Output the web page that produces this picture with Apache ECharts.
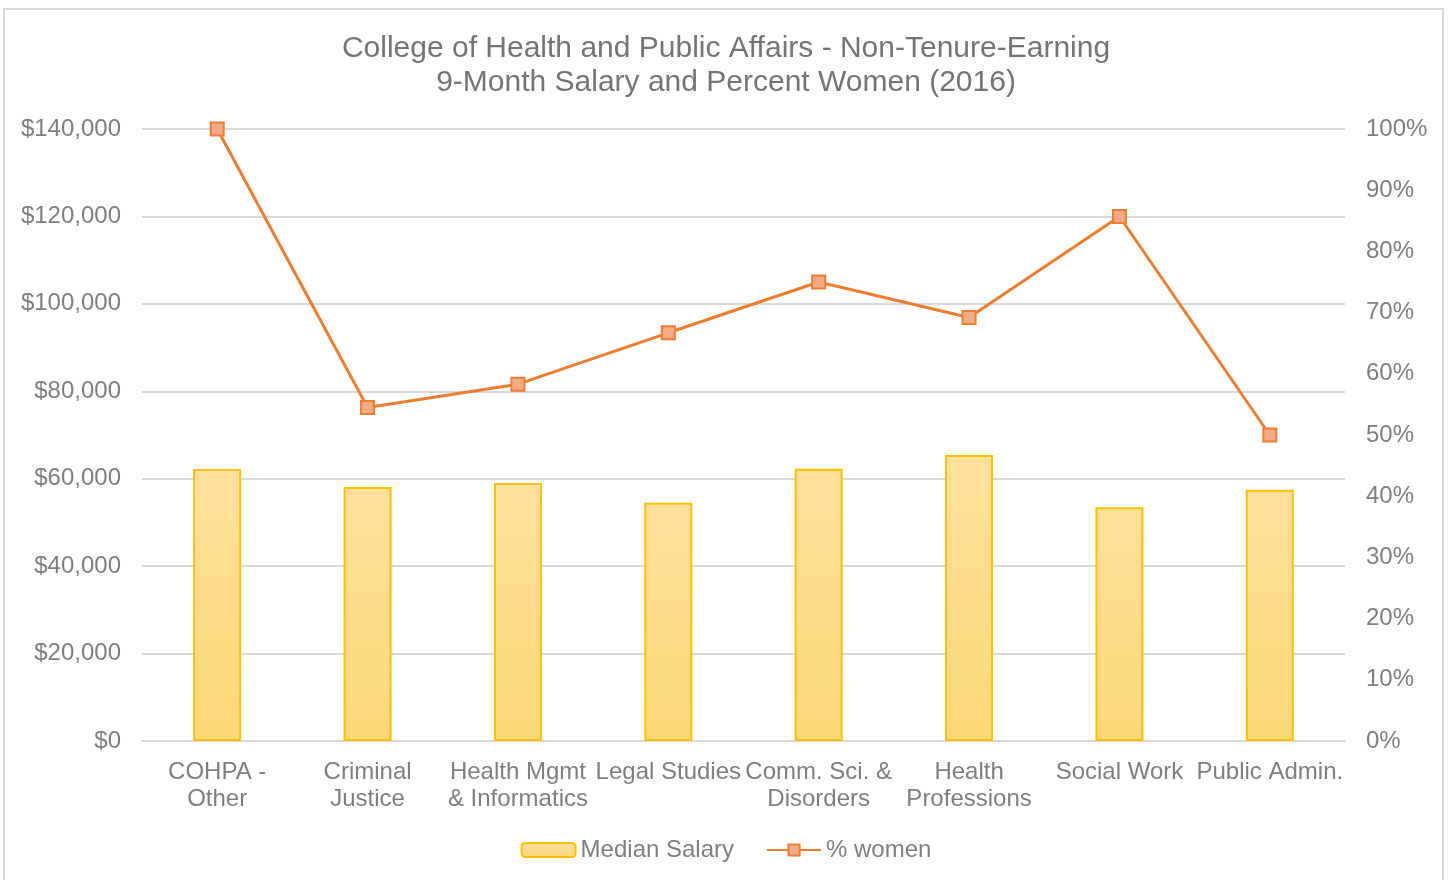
<!DOCTYPE html>
<html>
<head>
<meta charset="utf-8">
<script src="https://cdn.jsdelivr.net/npm/echarts@6/dist/echarts.min.js"></script>
<style>
html,body{margin:0;padding:0;background:#fff;}
#chart{width:1452px;height:880px;}
</style>
</head>
<body>
<div id="chart"></div>
<script>
const categories = ["COHPA -\nOther", "Criminal\nJustice", "Health Mgmt\n& Informatics", "Legal Studies", "Comm. Sci. &\nDisorders", "Health\nProfessions", "Social Work", "Public Admin."];
const medianSalary = [62200, 58100, 59000, 54500, 62300, 65400, 53500, 57500];
const pctWomen = [100, 54.5, 58.3, 66.7, 75, 69.2, 85.7, 50];
const salaryTicks = { min: 0, max: 140000, interval: 20000 };
const pctTicks = { min: 0, max: 100, interval: 10 };

const chart = echarts.init(document.getElementById('chart'), null, { renderer: 'canvas' });
const font = 'Liberation Sans, Arial, sans-serif';
const txt = '#7F7F7F';
chart.setOption({
  backgroundColor: '#fff',
  animation: false,
  graphic: [{
    type: 'rect', shape: { x: 4, y: 9, width: 1439, height: 900 },
    style: { fill: 'none', stroke: '#d9d9d9', lineWidth: 2 }, silent: true, z: -10
  }],
  title: {
    text: 'College of Health and Public Affairs - Non-Tenure-Earning\n9-Month Salary and Percent Women (2016)',
    left: 'center', top: 27,
    textStyle: { fontFamily: font, fontSize: 30, fontWeight: 'normal', color: '#757575', lineHeight: 34 }
  },
  legend: {
    bottom: 13, left: 'center', itemGap: 32, itemWidth: 54, itemHeight: 14,
    textStyle: { fontFamily: font, fontSize: 24, color: txt },
    data: [
      { name: 'Median Salary' },
      { name: '% women' }
    ]
  },
  grid: { left: 142, right: 107, top: 129, bottom: 139 },
  xAxis: {
    type: 'category', data: categories,
    axisLine: { lineStyle: { color: '#d9d9d9', width: 2 } },
    axisTick: { show: false },
    axisLabel: { fontFamily: font, fontSize: 24, color: txt, lineHeight: 27, margin: 18, interval: 0 }
  },
  yAxis: [{
    type: 'value', min: salaryTicks.min, max: salaryTicks.max, interval: salaryTicks.interval,
    axisLine: { show: false }, axisTick: { show: false },
    splitLine: { lineStyle: { color: '#d9d9d9', width: 2 } },
    axisLabel: { fontFamily: font, fontSize: 24, color: txt, margin: 21,
      formatter: v => '$' + v.toLocaleString('en-US') }
  }, {
    type: 'value', min: pctTicks.min, max: pctTicks.max, interval: pctTicks.interval,
    axisLine: { show: false }, axisTick: { show: false }, splitLine: { show: false },
    axisLabel: { fontFamily: font, fontSize: 24, color: txt, margin: 21, formatter: v => v + '%' }
  }],
  series: [{
    name: 'Median Salary', type: 'bar', data: medianSalary, barWidth: 48, yAxisIndex: 0,
    itemStyle: {
      color: new echarts.graphic.LinearGradient(0, 0, 0, 1, [
        { offset: 0, color: '#FDE09C' }, { offset: 1, color: '#FCD877' }
      ]),
      borderColor: '#FFC000', borderWidth: 2
    }
  }, {
    name: '% women', type: 'line', data: pctWomen, yAxisIndex: 1,
    symbol: 'rect', symbolSize: 13,
    lineStyle: { color: '#ED7D31', width: 3 },
    itemStyle: { color: '#F4A987', borderColor: '#ED7D31', borderWidth: 2 }
  }]
});
</script>
</body>
</html>
